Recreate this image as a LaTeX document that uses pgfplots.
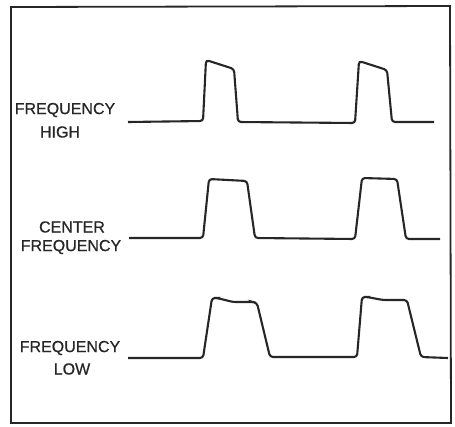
\documentclass[border=0pt]{standalone}
\usepackage{pgfplots}
\pgfplotsset{compat=1.18}
\usepackage{fontspec}
\setmainfont[FakeBold=0.6]{Liberation Sans}
\begin{document}
\begin{tikzpicture}
\begin{axis}[
  width=455pt, height=426pt, scale only axis,
  xmin=0, xmax=455, ymin=0, ymax=426, y dir=reverse,
  axis line style={draw=none}, ticks=none, clip=false,
]
% frame
\addplot[line width=1.8pt, color=black!85, line join=miter, mark=none]
  coordinates {(11,7) (450,6) (451,423) (11,423) (11,7) (12,7)};
% frequency high
\addplot[line width=2.1pt, color=black!85, rounded corners=3pt, mark=none]
  coordinates {(128,122) (203,121) (206,60) (234,69) (238,122) (355,123)
               (359,61) (387,70) (392,122) (434,122)};
% center frequency
\addplot[line width=2.1pt, color=black!85, rounded corners=3pt, mark=none]
  coordinates {(129,238) (203,238) (209,179) (247,181) (255,238) (355,239)
               (362,178) (397,179) (406,239) (440,239)};
% frequency low
\addplot[line width=2.1pt, color=black!85, rounded corners=3pt, mark=none]
  coordinates {(128,358) (203,358) (212,298) (217,298) (233,302) (253,302)
               (257,303) (270,357) (357,357) (362,297) (367,297) (383,300)
               (407,300) (421,357) (448,358)};
\tikzset{lab/.style={font=\fontsize{16}{16}\selectfont, text=black!85, inner sep=0pt}}
\node[lab] at (axis cs:65,110) {FREQUENCY};
\node[lab] at (axis cs:60,132) {HIGH};
\node[lab] at (axis cs:72,227) {CENTER};
\node[lab] at (axis cs:71,247) {FREQUENCY};
\node[lab] at (axis cs:70,348) {FREQUENCY};
\node[lab] at (axis cs:72,369) {LOW};
\end{axis}
\end{tikzpicture}
\end{document}
